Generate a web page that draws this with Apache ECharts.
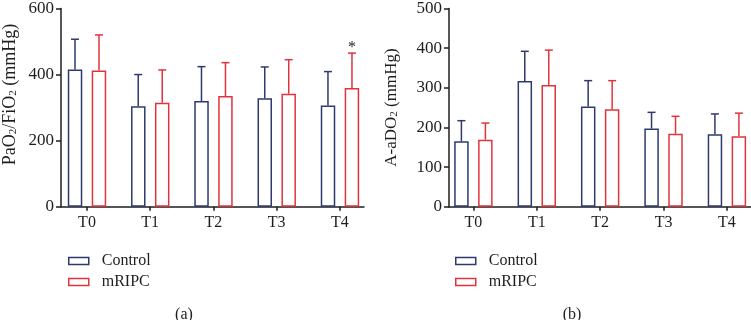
<!DOCTYPE html>
<html>
<head>
<meta charset="utf-8">
<script src="https://cdn.jsdelivr.net/npm/echarts@6/dist/echarts.min.js"></script>
<style>
html, body { margin: 0; padding: 0; background: #fff; }
#main { width: 751px; height: 320px; }
</style>
</head>
<body>
<div id="main"></div>
<script>
// 时间点
var timePoints = ['T0', 'T1', 'T2', 'T3', 'T4'];
var xPos = [0, 1, 2, 3, 4];

// (a) PaO2/FiO2 均值及上误差
var pfControl = [415, 304, 320, 328, 306];
var pfControlErr = [507, 400, 424, 423, 409];
var pfMripc = [412, 315, 335, 342, 359];
var pfMripcErr = [520, 414, 436, 445, 465];
var pfSig = ['', '', '', '', '*'];

// (b) A-aDO2 均值及上误差
var aaControl = [165, 317, 253, 197, 183];
var aaControlErr = [217, 392, 318, 238, 234];
var aaMripc = [169, 307, 246, 184, 178];
var aaMripcErr = [211, 395, 318, 228, 236];
var aaSig = ['', '', '', '', ''];

var blue = '#2e3a6e';
var red = '#e0343c';
var ink = '#1e1e1e';
var serif = 'Liberation Serif';

function pairs(vals) {
	var out = [];
	for (var i = 0; i < vals.length; i++) {
		out.push([xPos[i], vals[i]]);
	}
	return out;
}

function errData(mean, upper) {
	var out = [];
	for (var i = 0; i < mean.length; i++) {
		out.push([xPos[i], mean[i], upper[i]]);
	}
	return out;
}

// 误差线（只画上半部分，带帽）
function errRender(offset, color, marks) {
	return function(params, api) {
		var x = api.value(0);
		var p0 = api.coord([x, api.value(1)]);
		var p1 = api.coord([x, api.value(2)]);
		var cx = p0[0] + offset;
		var style = { stroke: color, lineWidth: 1.5 };
		var kids = [
			{ type: 'line', shape: { x1: cx, y1: p0[1], x2: cx, y2: p1[1] }, style: style },
			{ type: 'line', shape: { x1: cx - 4, y1: p1[1], x2: cx + 4, y2: p1[1] }, style: style }
		];
		var m = marks[params.dataIndex];
		if (m) {
			kids.push({
				type: 'text',
				style: { text: m, x: cx, y: p1[1] - 5, align: 'center', verticalAlign: 'middle',
					fill: ink, font: '16px ' + serif }
			});
		}
		return { type: 'group', children: kids };
	};
}

function xAxisCfg(idx, min) {
	return {
		type: 'value', gridIndex: idx, min: min, max: 4.38,
		axisLine: { onZero: false, lineStyle: { color: ink, width: 1.5 } },
		axisTick: { show: true, length: 4, customValues: xPos, lineStyle: { color: ink, width: 1.5 } },
		axisLabel: { customValues: xPos, margin: 8, color: ink, fontFamily: serif, fontSize: 16,
			formatter: function(v) { return timePoints[Math.round(v)]; } },
		splitLine: { show: false }
	};
}

function yAxisCfg(idx, max, step, name, gap, size, pad) {
	return {
		type: 'value', gridIndex: idx, min: 0, max: max, interval: step,
		name: name, nameLocation: 'middle', nameGap: gap,
		nameTextStyle: { color: ink, fontFamily: serif, fontSize: size, padding: pad,
			rich: { sub: { fontSize: 11, fontFamily: serif, color: ink, verticalAlign: 'bottom', padding: [6, 0, 0, 0] } } },
		axisLine: { show: true, onZero: false, lineStyle: { color: ink, width: 1.5 } },
		axisTick: { show: true, length: 5, lineStyle: { color: ink, width: 1.5 } },
		axisLabel: { margin: 7, color: ink, fontFamily: serif, fontSize: 17 },
		splitLine: { show: false }
	};
}

function barSeries(name, vals, gi, color) {
	return {
		name: name, type: 'bar', xAxisIndex: gi, yAxisIndex: gi,
		data: pairs(vals), barWidth: 14.5, barGap: '65%',
		itemStyle: { color: '#fff', borderColor: color, borderWidth: 1.5 },
		emphasis: { disabled: true }
	};
}

function errSeries(mean, upper, gi, offset, color, marks) {
	return {
		type: 'custom', xAxisIndex: gi, yAxisIndex: gi, z: 3,
		data: errData(mean, upper),
		encode: { x: 0, y: [1, 2] },
		renderItem: errRender(offset, color, marks)
	};
}

function legendCfg(left) {
	return {
		orient: 'vertical', left: left, top: 248,
		data: ['Control', 'mRIPC'],
		icon: 'rect', itemWidth: 20, itemHeight: 7, itemGap: 5,
		itemStyle: { borderWidth: 1.5 },
		textStyle: { color: ink, fontFamily: serif, fontSize: 16, lineHeight: 16, padding: [0, 0, 0, 8] },
		selectedMode: false
	};
}

var dom = document.getElementById('main');
var chart = echarts.init(dom, null, { renderer: 'canvas' });

var option = {
	animation: false,
	backgroundColor: '#fff',
	title: [
		{ text: '(a)', left: 179, top: 302, textAlign: 'center',
			textStyle: { color: ink, fontFamily: serif, fontSize: 16, fontWeight: 'normal' } },
		{ text: '(b)', left: 567, top: 302, textAlign: 'center',
			textStyle: { color: ink, fontFamily: serif, fontSize: 16, fontWeight: 'normal' } }
	],
	legend: [legendCfg(63), legendCfg(450)],
	grid: [
		{ left: 61, top: 6.7, width: 303, height: 200 },
		{ left: 449, top: 6.7, width: 302, height: 200 }
	],
	xAxis: [xAxisCfg(0, -0.411), xAxisCfg(1, -0.385)],
	yAxis: [
		yAxisCfg(0, 600, 200, 'PaO{sub|2}/FiO{sub|2} (mmHg)', 42, 18, [0, 0, 0, 26]),
		yAxisCfg(1, 500, 100, 'A-aDO{sub|2} (mmHg)', 49, 17, 0)
	],
	series: [
		barSeries('Control', pfControl, 0, blue),
		barSeries('mRIPC', pfMripc, 0, red),
		errSeries(pfControl, pfControlErr, 0, -12, blue, ['', '', '', '', '']),
		errSeries(pfMripc, pfMripcErr, 0, 12, red, pfSig),
		barSeries('Control', aaControl, 1, blue),
		barSeries('mRIPC', aaMripc, 1, red),
		errSeries(aaControl, aaControlErr, 1, -12, blue, ['', '', '', '', '']),
		errSeries(aaMripc, aaMripcErr, 1, 12, red, aaSig)
	]
};

chart.setOption(option);
</script>
</body>
</html>
